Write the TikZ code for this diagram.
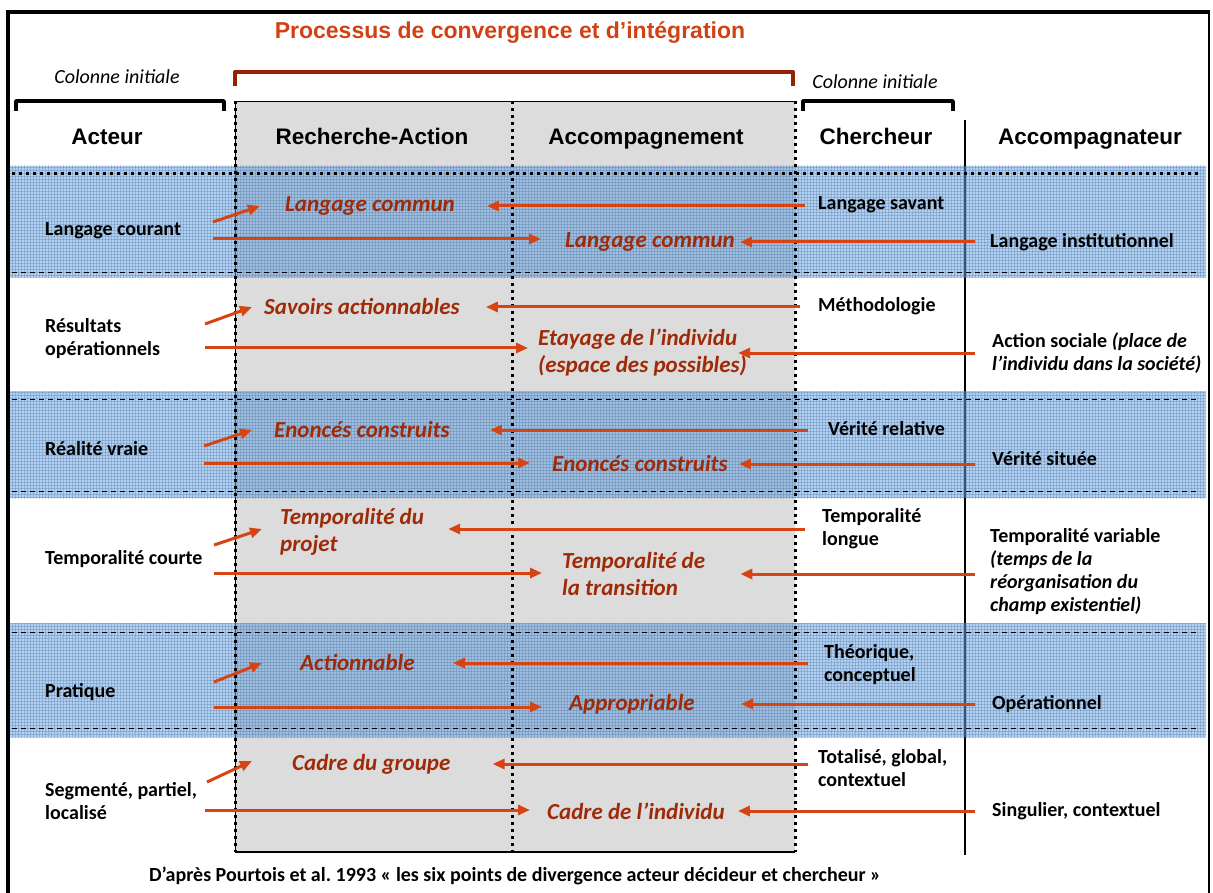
\documentclass[tikz,border=0pt]{standalone}
\usepackage{fontspec}
\setmainfont{Carlito}
\newfontfamily\headfont{Liberation Sans}
\usetikzlibrary{arrows.meta,patterns}
\definecolor{arrred}{RGB}{213,68,18}
\definecolor{convred}{RGB}{158,42,8}
\definecolor{brackred}{RGB}{150,32,5}
\definecolor{titred}{RGB}{210,65,20}
\definecolor{greyfill}{RGB}{220,220,220}
\definecolor{bandblue}{RGB}{100,160,225}
\frenchspacing

\begin{document}
\begin{tikzpicture}[
    x=1pt, y=-1pt,
    lab/.style={inner sep=0pt, anchor=west, align=left,
        font=\bfseries\fontsize{20}{23}\selectfont},
    conv/.style={inner sep=0pt, anchor=west, align=left, text=convred,
        font=\bfseries\itshape\fontsize{23}{27}\selectfont},
    head/.style={inner sep=0pt, text height=17pt, text depth=5pt,
        font=\headfont\bfseries\fontsize{22.5}{26}\selectfont},
    colinit/.style={inner sep=0pt, font=\itshape\fontsize{20}{22}\selectfont},
    arr/.style={-{Triangle[length=12pt,width=10pt]}, line width=3pt, draw=arrred},
    band/.style={fill=bandblue, fill opacity=0.5},
    bandgrid/.style={pattern=grid, pattern color=bandblue!70!black, opacity=0.3},
    dotline/.style={line width=3pt, dash pattern=on 3pt off 4pt},
    dashline/.style={line width=1pt, dash pattern=on 5pt off 4pt},
    brack/.style={line width=3.5pt, line join=round}
]
    \useasboundingbox (0,0) rectangle (1213,893);

    % cadre
    \draw[line width=4pt] (8,893) -- (8,12) -- (1210,12);
    \draw[line width=2pt] (1209,12) -- (1209,893);

    % colonnes centrales
    \fill[greyfill] (235,101) rectangle (795,852);
    \draw[line width=0.8pt] (235,852) -- (235,101) -- (795,101);
    \draw[line width=1.5pt] (235,852) -- (795,852);
    \draw[line width=1.2pt] (965,120) -- (965,855);

    % bandes
    \fill[band] (10,166) rectangle (1206,278);
    \fill[band] (10,391) rectangle (1206,498);
    \fill[band] (10,623) rectangle (1206,737);
    \fill[bandgrid] (10,166) rectangle (1206,278);
    \fill[bandgrid] (10,391) rectangle (1206,498);
    \fill[bandgrid] (10,623) rectangle (1206,737);
    \draw[dotline] (12,174) -- (1200,174);
    \draw[dashline] (12,273) -- (1200,273);
    \draw[dashline] (12,399) -- (1200,399);
    \draw[dashline] (12,491) -- (1200,491);
    \draw[dashline] (12,632) -- (1200,632);
    \draw[dashline] (12,728) -- (1200,728);

    \draw[dotline] (235,101) -- (235,852);
    \draw[dotline] (512,101) -- (512,852);
    \draw[dotline] (795,101) -- (795,852);

    % en-tetes
    \node[text=titred, font=\headfont\bfseries\fontsize{23}{27}\selectfont] (titre) at (510,33)
        {Processus de convergence et d’intégration};
    \draw[brack, draw=brackred, line width=4pt] (235,86) -- (235,72) -- (793,72) -- (793,86);
    \node[colinit] (colg) at (117,77) {Colonne initiale};
    \node[colinit] (cold) at (875,82) {Colonne initiale};
    \draw[brack] (16,111) -- (16,101) -- (224,101) -- (224,111);
    \draw[brack] (803,111) -- (803,101) -- (953,101) -- (953,111);

    \node[head] (acteur) at (107,139) {Acteur};
    \node[head] (recherche) at (372,139) {Recherche-Action};
    \node[head] (accomp) at (646,139) {Accompagnement};
    \node[head] (chercheur) at (876,139) {Chercheur};
    \node[head] (accompagnateur) at (1090,139) {Accompagnateur};

    % ligne 1
    \node[lab] (courant) at (45,231) {Langage courant};
    \node[conv] (commun1) at (285,206) {Langage commun};
    \node[lab] (savant) at (818,205) {Langage savant};
    \node[conv] (commun2) at (565,242) {Langage commun};
    \node[lab] (institut) at (990,242) {Langage institutionnel};
    \coordinate (courantA) at (213,222);
    \coordinate (courantB) at (213,239);
    \draw[arr] (courantA) -- ([xshift=-25pt]commun1.west);
    \draw[arr, shorten >=24pt] (courantB) -- (courantB -| commun2.west);
    \draw[arr, shorten <=13pt, shorten >=32pt] (savant.west |- commun1.east) -- (commun1.east);
    \draw[arr, shorten <=15pt, shorten >=5pt] (institut.west |- commun2.east) -- (commun2.east);

    % ligne 2
    \node[lab] (resultats) at (45,339) {Résultats\\opérationnels};
    \node[conv] (savoirs) at (264,307) {Savoirs actionnables};
    \node[lab] (methodo) at (818,306) {Méthodologie};
    \node[conv] (etayage) at (538,353) {Etayage de l’individu\\(espace des possibles)};
    \node[lab] (action) at (992,353) {Action sociale \textit{(place de}\\\textit{l’individu dans la société)}};
    \coordinate (resultatsA) at (205,324);
    \coordinate (resultatsB) at (205,348);
    \draw[arr] (resultatsA) -- ([xshift=-12pt]savoirs.west);
    \draw[arr, shorten >=10pt] (resultatsB) -- (resultatsB -| etayage.west);
    \draw[arr, shorten <=18pt, shorten >=26pt] (methodo.west |- savoirs.east) -- (savoirs.east);
    \draw[arr, shorten <=17pt, shorten >=-9pt] (action.west |- etayage.east) -- (etayage.east);

    % ligne 3
    \node[lab] (realite) at (45,449) {Réalité vraie};
    \node[conv] (enonces1) at (274,430) {Enoncés construits};
    \node[lab] (relative) at (828,429) {Vérité relative};
    \node[conv] (enonces2) at (552,464) {Enoncés construits};
    \node[lab] (situee) at (992,459) {Vérité située};
    \coordinate (realiteA) at (204,446);
    \coordinate (realiteB) at (204,463);
    \draw[arr] (realiteA) -- ([xshift=-22pt]enonces1.west);
    \draw[arr, shorten >=22pt] (realiteB) -- (realiteB -| enonces2.west);
    \draw[arr, shorten <=20pt, shorten >=40pt] (relative.west |- enonces1.east) -- (enonces1.east);
    \draw[arr, shorten <=17pt, shorten >=11pt] (situee.west |- enonces2.east) -- (enonces2.east);

    % ligne 4
    \node[lab] (courte) at (45,559) {Temporalité courte};
    \node[conv] (tprojet) at (280,532) {Temporalité du\\projet};
    \node[lab] (longue) at (822,529) {Temporalité\\longue};
    \node[conv] (ttransition) at (562,574) {Temporalité de\\la transition};
    \node[lab] (variable) at (990,572) {Temporalité variable\\\textit{(temps de la}\\\textit{réorganisation du}\\\textit{champ existentiel)}};
    \coordinate (courteA) at (214,545);
    \coordinate (courteB) at (214,573);
    \draw[arr] (courteA) -- ([xshift=-18pt,yshift=3pt]tprojet.west);
    \draw[arr, shorten >=20pt] (courteB) -- (courteB -| ttransition.west);
    \draw[arr, shorten <=17pt, shorten >=24pt] (longue.west) -- (longue.west -| tprojet.east);
    \draw[arr, shorten <=15pt, shorten >=35pt] (variable.west |- ttransition.east) -- (ttransition.east);

    % ligne 5
    \node[lab] (pratique) at (45,692) {Pratique};
    \node[conv] (actionnable) at (300,663) {Actionnable};
    \node[lab] (theorique) at (824,665) {Théorique,\\conceptuel};
    \node[conv] (appropriable) at (569,704) {Appropriable};
    \node[lab] (operationnel) at (992,704) {Opérationnel};
    \coordinate (pratiqueA) at (214,682);
    \coordinate (pratiqueB) at (214,707);
    \draw[arr] (pratiqueA) -- ([xshift=-38pt]actionnable.west);
    \draw[arr, shorten >=27pt] (pratiqueB) -- (pratiqueB -| appropriable.west);
    \draw[arr, shorten <=16pt, shorten >=38pt] (theorique.west |- actionnable.east) -- (actionnable.east);
    \draw[arr, shorten <=17pt, shorten >=46pt] (operationnel.west |- appropriable.east) -- (appropriable.east);

    % ligne 6
    \node[lab] (segmente) at (45,801) {Segmenté, partiel,\\localisé};
    \node[conv] (cgroupe) at (292,764) {Cadre du groupe};
    \node[lab] (totalise) at (818,768) {Totalisé, global,\\contextuel};
    \node[conv] (cindividu) at (547,811) {Cadre de l’individu};
    \node[lab] (singulier) at (992,811) {Singulier, contextuel};
    \coordinate (segmenteA) at (207,782);
    \coordinate (segmenteB) at (205,810);
    \draw[arr] (segmenteA) -- ([xshift=-40pt,yshift=3pt]cgroupe.west);
    \draw[arr, shorten >=17pt] (segmenteB) -- (segmenteB -| cindividu.west);
    \draw[arr, shorten <=10pt, shorten >=42pt] (totalise.west |- cgroupe.east) -- (cgroupe.east);
    \draw[arr, shorten <=17pt, shorten >=13pt] (singulier.west |- cindividu.east) -- (cindividu.east);

    \node[lab, anchor=center] (source) at (515,876)
        {D’après Pourtois et al. 1993 « les six points de divergence acteur décideur et chercheur »};
\end{tikzpicture}
\end{document}
